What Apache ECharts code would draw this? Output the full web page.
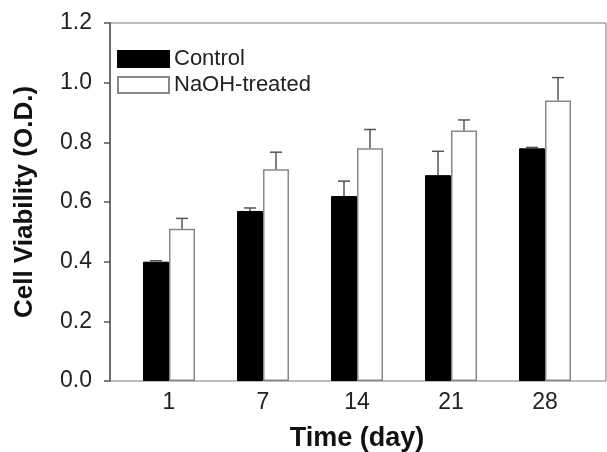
<!DOCTYPE html>
<html>
<head>
<meta charset="utf-8">
<script src="https://cdn.jsdelivr.net/npm/echarts@6/dist/echarts.min.js"></script>
<style>
html,body{margin:0;padding:0;background:#fff;}
#chart{width:607px;height:452px;}
</style>
</head>
<body>
<div id="chart"></div>
<script>
var days = ['1', '7', '14', '21', '28'];
var control = [0.40, 0.57, 0.62, 0.69, 0.78];
var controlErr = [0.003, 0.01, 0.05, 0.08, 0.003];
var naoh = [0.51, 0.71, 0.78, 0.84, 0.94];
var naohErr = [0.035, 0.057, 0.063, 0.035, 0.077];

var FONT = '"Liberation Sans", Arial, sans-serif';
var BAR_W = 26;

function errData(vals, errs){
    var out = [];
    for(var i = 0; i < vals.length; i++){
        out.push([i, vals[i], vals[i] + errs[i]]);
    }
    return out;
}

// side: -1 for left bar of the pair, +1 for right bar
function errRender(side){
    return function(params, api){
        var lo = api.coord([api.value(0), api.value(1)]);
        var hi = api.coord([api.value(0), api.value(2)]);
        var x = lo[0] + side * BAR_W / 2;
        var style = {stroke: '#555', lineWidth: 1.5};
        return {
            type: 'group',
            children: [
                {type: 'line', shape: {x1: x, y1: lo[1], x2: x, y2: hi[1]}, style: style},
                {type: 'line', shape: {x1: x - 6, y1: hi[1], x2: x + 6, y2: hi[1]}, style: style}
            ]
        };
    };
}

var myChart = echarts.init(document.getElementById('chart'));

var option = {
    animation: false,
    textStyle: {fontFamily: FONT},
    grid: [{
        left: 122,
        right: 15,
        top: 23,
        bottom: 71,
        containLabel: false,
        outerBoundsMode: 'none'
    }, {
        // outer frame
        left: 110,
        right: 1,
        top: 23,
        bottom: 71,
        containLabel: false,
        outerBoundsMode: 'none',
        show: true,
        borderColor: '#7a7a7a',
        borderWidth: 1
    }],
    legend: {
        orient: 'vertical',
        left: 117,
        top: 48,
        padding: 0,
        icon: 'rect',
        itemWidth: 51,
        itemHeight: 16,
        itemGap: 4,
        textStyle: {fontSize: 22, lineHeight: 22, color: '#222', fontFamily: FONT},
        data: ['Control', 'NaOH-treated']
    },
    xAxis: [{
        type: 'category',
        gridIndex: 0,
        data: days,
        axisLine: {show: false},
        axisTick: {show: false},
        axisLabel: {fontSize: 23, color: '#222', margin: 10, fontFamily: FONT},
        name: 'Time (day)',
        nameLocation: 'middle',
        nameGap: 44,
        nameTextStyle: {fontSize: 27, fontWeight: 'bold', color: '#111', fontFamily: FONT}
    }, {
        type: 'value',
        gridIndex: 1,
        show: false
    }],
    yAxis: [{
        type: 'value',
        gridIndex: 0,
        min: 0,
        max: 1.2,
        interval: 0.2,
        offset: 12,
        axisLine: {show: true, lineStyle: {color: '#555', width: 1.5}},
        axisTick: {show: true, length: 6, lineStyle: {color: '#555', width: 1.5}},
        splitLine: {show: false},
        axisLabel: {
            fontSize: 23,
            color: '#222',
            margin: 18,
            fontFamily: FONT,
            formatter: function(v){ return v.toFixed(1); }
        },
        name: 'Cell Viability (O.D.)',
        nameLocation: 'middle',
        nameRotate: 90,
        nameGap: 72,
        nameTextStyle: {fontSize: 26, fontWeight: 'bold', color: '#111', fontFamily: FONT}
    }, {
        type: 'value',
        gridIndex: 1,
        show: false
    }],
    series: [{
        name: 'Control',
        type: 'bar',
        barWidth: BAR_W,
        barGap: '0%',
        itemStyle: {color: '#000', borderColor: '#000', borderWidth: 1},
        data: control
    }, {
        name: 'NaOH-treated',
        type: 'bar',
        barWidth: BAR_W,
        barGap: '0%',
        itemStyle: {color: '#fff', borderColor: '#888', borderWidth: 1.5},
        data: naoh
    }, {
        type: 'custom',
        renderItem: errRender(-1),
        data: errData(control, controlErr),
        z: 5
    }, {
        type: 'custom',
        renderItem: errRender(1),
        data: errData(naoh, naohErr),
        z: 5
    }]
};

myChart.setOption(option);
window.addEventListener('resize', function(){
    myChart.resize();
});
</script>
</body>
</html>
